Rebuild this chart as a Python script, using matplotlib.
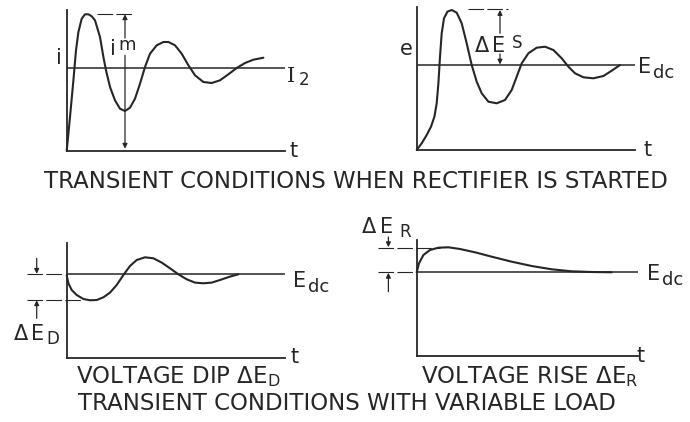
import matplotlib.pyplot as plt

W, H = 690, 422
INK = '#262626'

# curves: t along the time axis, v up from the t axis
# (both in pixels measured from each panel's origin)
start_i_t = [0, 3.3, 6.7, 9.3, 11.7, 15, 18.3, 21.7, 25, 28.3, 33.3, 36.7, 39.3, 43.3,
             48.3, 53.3, 58.3, 63.3, 68.3, 73.3, 78.3, 83.3, 90, 96.7, 101.7, 108.3,
             115, 121.7, 128.3, 136.7, 145, 153.3, 161.7, 170, 178.3, 186.7, 196.7]
start_i_v = [0, 34, 70.7, 100.7, 119, 132.3, 136.7, 136.7, 134.7, 130.7, 114, 94, 80.7, 64,
             50.7, 42.3, 40, 43.3, 52.3, 67.3, 84, 97.3, 105.7, 109, 109, 105.7,
             97.3, 85.7, 75.7, 69, 68, 70.7, 76.7, 83, 88, 91.3, 93.3]
i2_level = 82.7

start_e_t = [0, 5, 10, 14.3, 17.7, 20, 21.7, 23.3, 25, 27.3, 30.7, 35, 40, 45, 50, 55,
             60, 65, 71.7, 80, 88.3, 95, 100, 105, 111.7, 120, 128.3, 136.7, 145,
             151.7, 158.3, 166.7, 176.7, 186.7, 195, 203.3]
start_e_v = [0, 6.7, 15, 23.3, 33.3, 46.7, 66.7, 93.3, 116.7, 131.7, 138.3, 140, 137.3,
             126.7, 106.7, 85, 68.3, 56.7, 48.3, 46.7, 50, 60, 73.3, 86.7, 96.7, 102.3,
             103.3, 100, 91.7, 83.3, 76.7, 72.7, 71.7, 74, 79.3, 85]
edc_start = 85

dip_t = [0, 1.7, 5, 10, 16.7, 23.3, 30, 36.7, 43.3, 50, 56.7, 63.3, 70, 78.3, 86.7, 95,
         103.3, 111.7, 120, 128.3, 136.7, 145, 153.3, 163.3, 171.7]
dip_v = [83, 75, 68.3, 63.3, 59.3, 58, 58.3, 61, 65.7, 73.3, 83.3, 92.3, 98.3, 101, 100,
         95.7, 90, 84, 79, 75.7, 75, 75.7, 78.3, 81.7, 84]
edc_dip = 84

rise_t = [0, 2.3, 6.7, 13.3, 21.7, 31.7, 43.3, 58.3, 75, 95, 115, 135, 155, 175, 195]
rise_v = [83.7, 92.7, 101, 106, 108.3, 108.7, 107, 103.7, 99.3, 94.3, 90, 86.7, 84.7, 84,
          83.7]
edc_rise = 83.7


def make_axes(fig, x0, y0, xlen, ylen):
    # x0, y0 = origin in figure pixels (y from top)
    ax = fig.add_axes([x0 / W, (H - y0) / H, xlen / W, ylen / H])
    ax.set_xlim(0, xlen)
    ax.set_ylim(0, ylen)
    ax.patch.set_alpha(0)
    for side in ('top', 'right'):
        ax.spines[side].set_visible(False)
    for side in ('left', 'bottom'):
        ax.spines[side].set_color(INK)
        ax.spines[side].set_linewidth(1.3)
    ax.set_xticks([])
    ax.set_yticks([])
    return ax


def arrow(ax, x, y_from, y_to):
    ax.annotate('', xy=(x, y_to), xytext=(x, y_from),
                arrowprops=dict(arrowstyle='-|>', color=INK, lw=0.9, mutation_scale=7,
                                shrinkA=0, shrinkB=0),
                annotation_clip=False)


def guide(ax, t0, t1, v):
    ax.plot([t0, t1], [v, v], color=INK, lw=0.8, dashes=(14, 3), clip_on=False)


def label(ax, t, v, s, size=15, **kw):
    ax.text(t, v, s, fontsize=size, color=INK, ha='left', va='baseline',
            clip_on=False, **kw)


def draw_curve(ax, t, v, level):
    ax.axhline(level, color=INK, lw=1.1)
    ax.plot(t, v, color=INK, lw=1.5, clip_on=False, solid_capstyle='round')


fig = plt.figure(figsize=(W / 100, H / 100), dpi=100)
fig.patch.set_facecolor('white')

# current when rectifier is started
ax1 = make_axes(fig, 66.7, 151, 218, 141)
draw_curve(ax1, start_i_t, start_i_v, i2_level)
guide(ax1, 30, 66.7, 136.7)
arrow(ax1, 58.3, 113, 136.7)
arrow(ax1, 58.3, 95.7, 2.3)
label(ax1, 43.5, 96, 'i', 15)
label(ax1, 51.5, 100.5, 'm', 13)
label(ax1, -11, 87, 'i', 15)
label(ax1, 220.5, 69, 'I', 15, family='DejaVu Serif')
label(ax1, 232, 66, '2', 12)
label(ax1, 222.7, -6, 't', 15)

# voltage when rectifier is started
ax2 = make_axes(fig, 416.7, 150, 218.3, 143)
draw_curve(ax2, start_e_t, start_e_v, edc_start)
guide(ax2, 51.7, 91.7, 140.7)
arrow(ax2, 83.3, 116.7, 140)
arrow(ax2, 83.3, 96, 85.5)
label(ax2, 58.3, 98.3, 'Δ', 15)
label(ax2, 75.5, 98.3, 'E', 15)
label(ax2, 95, 101.7, 'S', 12)
label(ax2, -17, 95, 'e', 15)
label(ax2, 221.7, 76.7, 'E', 15)
label(ax2, 236.7, 71.7, 'dc', 13)
label(ax2, 226.7, -6, 't', 15)

# voltage dip
ax3 = make_axes(fig, 66.7, 358.3, 218, 115)
draw_curve(ax3, dip_t, dip_v, edc_dip)
guide(ax3, -40, -3, edc_dip)
guide(ax3, -40, 15, 58.3)
arrow(ax3, -30, 100, 84.5)
arrow(ax3, -30, 40, 58)
label(ax3, -53.3, 18.3, 'Δ', 15)
label(ax3, -36, 18.3, 'E', 15)
label(ax3, -20, 14.5, 'D', 12)
label(ax3, 226.7, 71.7, 'E', 15)
label(ax3, 241.7, 66.7, 'dc', 13)
label(ax3, 223.3, -5, 't', 15)

# voltage rise
ax4 = make_axes(fig, 416.7, 356, 221.7, 116)
draw_curve(ax4, rise_t, rise_v, edc_rise)
guide(ax4, -39, 23, 108.3)
guide(ax4, -39, -4, edc_rise)
arrow(ax4, -28.3, 119, 108.8)
arrow(ax4, -28.3, 64.3, 83.2)
label(ax4, -55, 123, 'Δ', 15)
label(ax4, -37, 123, 'E', 15)
label(ax4, -17.5, 119, 'R', 12)
label(ax4, 230, 76, 'E', 15)
label(ax4, 245, 71, 'dc', 13)
label(ax4, 220, -5.7, 't', 15)

titles = [
    (356, 182, 'TRANSIENT CONDITIONS WHEN RECTIFIER IS STARTED'),
    (178, 377, 'VOLTAGE DIP ΔE$_\\mathrm{D}$'),
    (530, 377, 'VOLTAGE RISE ΔE$_\\mathrm{R}$'),
    (347, 403, 'TRANSIENT CONDITIONS WITH VARIABLE LOAD'),
]
for x, y, s in titles:
    fig.text(x / W, 1 - y / H, s, fontsize=16.5, color=INK, ha='center', va='center')

fig.savefig('out.png', dpi=100)
